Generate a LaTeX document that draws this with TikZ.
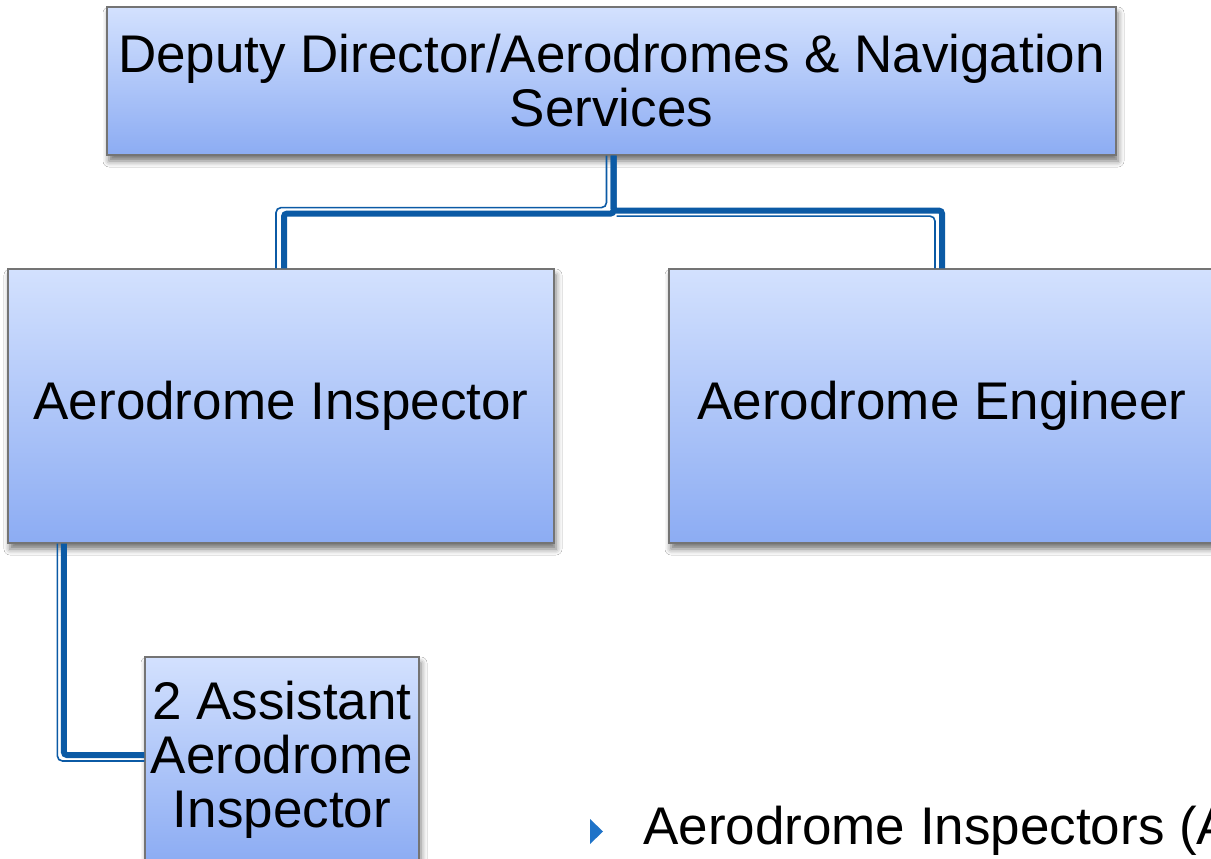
\documentclass[tikz,border=0pt]{standalone}
\usepackage{fontspec}
\setmainfont{Liberation Sans}
\usetikzlibrary{calc,shadows.blur}
\definecolor{boxtop}{HTML}{D3E1FE}
\definecolor{boxbot}{HTML}{8CACF3}
\definecolor{boxline}{HTML}{747474}
\definecolor{conn}{HTML}{0B5AA5}
\definecolor{bullet}{HTML}{1F73C8}
\tikzset{
  orgbox/.style={draw=boxline, line width=1.2pt, top color=boxtop, bottom color=boxbot,
    inner sep=0pt, align=center, font=\fontsize{53}{54}\selectfont,
    blur shadow={shadow xshift=2pt, shadow yshift=-6pt, shadow blur radius=6pt, shadow opacity=55}},
  thickconn/.style={draw=conn, line width=6pt, rounded corners=3pt},
  thinconn/.style={draw=conn, line width=1.6pt, rounded corners=5pt},
}
\begin{document}
\begin{tikzpicture}[x=1pt,y=-1pt]
\clip (0,0) rectangle (1211,859);
\fill[white] (0,0) rectangle (1211,859);
\node[orgbox, minimum width=1009pt, minimum height=148pt] (top) at (611.5,81) {Deputy Director/Aerodromes \& Navigation\\Services};
\node[orgbox, minimum width=546pt, minimum height=274pt] (ins) at (281,406) {Aerodrome Inspector};
\node[orgbox, minimum width=546pt, minimum height=274pt] (eng) at (942,406) {Aerodrome Engineer};
\node[orgbox, minimum width=274pt, minimum height=205pt] (asst) at (282,759.5) {2 Assistant\\Aerodrome\\Inspector};
% top -> inspector
\draw[thinconn] ($(top.south)+(-5,0)$) -- ++(0,52) -| ($(ins.north)+(-5,0)$);
\draw[thickconn] ($(top.south)+(2,0)$) -- ++(0,58) -| ($(ins.north)+(3,0)$);
% top -> engineer
\draw[thinconn] ($(top.south)+(5,60.5)$) -| ($(eng.north)+(-7,0)$);
\draw[thickconn] ($(top.south)+(2,0)$) -- ++(0,55) -| (eng.north);
% inspector -> assistant
\draw[thinconn] ($(ins.south west)+(50,0)$) |- ($(asst.west)+(0,1.5)$);
\draw[thickconn] ($(ins.south west)+(56.5,0)$) |- ($(asst.west)+(0,-4.5)$);
% bullet text
\fill[bullet] (590,819) -- (603,831.5) -- (590,844) -- cycle;
\node[anchor=base west, inner sep=0pt, font=\fontsize{53}{54}\selectfont] (bul) at (643,844) {Aerodrome Inspectors (A};
\end{tikzpicture}
\end{document}
